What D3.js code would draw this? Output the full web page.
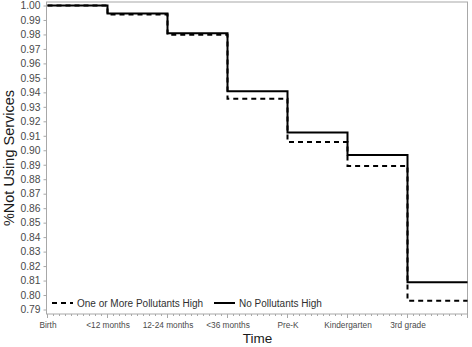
<!DOCTYPE html>
<html>
<head>
<meta charset="utf-8">
<script src="https://cdn.jsdelivr.net/npm/d3@7"></script>
<style>
  body { margin: 0; background: #fff; }
  text { font-family: "Liberation Sans", Arial, sans-serif; }
</style>
</head>
<body>
<div class="chart"></div>
<script>
// time points (x axis categories)
let timeLabels = ['Birth', '<12 months', '12-24 months', '<36 months', 'Pre-K', 'Kindergarten', '3rd grade'];
// step values for each interval starting at the time point
let noPollutants = [1.000, 0.9945, 0.9808, 0.9407, 0.9123, 0.8967, 0.8089];
let onePlusPollutants = [1.000, 0.9938, 0.9798, 0.9356, 0.9057, 0.8892, 0.7960];
let yTicks = d3.range(79, 101).map(d => d / 100);

let width = 472, height = 347;
let svg = d3.select('.chart')
    .append('svg')
    .attr('width', width)
    .attr('height', height);

let x_scale = d3.scaleLinear()
    .domain([0, timeLabels.length])
    .range([47.5, 467.5]);
let y_scale = d3.scaleLinear()
    .domain([0.79, 1.00])
    .range([309.5, 5.5]);

let frameTop = 2, frameBottom = 314;

// frame
svg.append('rect')
    .attr('x', x_scale(0) - 1)
    .attr('y', frameTop)
    .attr('width', x_scale(timeLabels.length) - x_scale(0) + 1)
    .attr('height', frameBottom - frameTop)
    .attr('fill', 'none')
    .attr('stroke', '#a8a8a8')
    .attr('stroke-width', 1);

// y axis
let y_Axis = d3.axisLeft()
    .scale(y_scale)
    .tickValues(yTicks)
    .tickSize(3)
    .tickFormat(d3.format('.2f'));
let gy = svg.append('g')
    .attr('transform', `translate(${x_scale(0) - 1}, 0)`)
    .call(y_Axis);
gy.select('.domain').remove();
gy.selectAll('line').attr('stroke', '#a8a8a8');
gy.selectAll('text')
    .attr('fill', '#4a4a4a')
    .style('font-size', '10.3px')
    .attr('x', -6);

// x axis minor ticks
let minor = d3.range(0, timeLabels.length * 10 + 1).map(d => d / 10);
svg.append('g')
    .selectAll('line')
    .data(minor)
    .join('line')
    .attr('x1', d => x_scale(d))
    .attr('x2', d => x_scale(d))
    .attr('y1', frameBottom)
    .attr('y2', d => frameBottom + (Math.abs(d - Math.round(d)) < 1e-6 ? 4 : 2))
    .attr('stroke', '#a8a8a8');

let x_Axis = d3.axisBottom()
    .scale(x_scale)
    .tickValues(d3.range(timeLabels.length))
    .tickSize(0)
    .tickFormat(i => timeLabels[i]);
let gx = svg.append('g')
    .attr('transform', `translate(0, ${frameBottom})`)
    .call(x_Axis);
gx.select('.domain').remove();
gx.selectAll('text')
    .attr('fill', '#4a4a4a')
    .attr('y', 8)
    .style('font-size', '8.3px');

// step lines
function stepData(vals) {
    let pts = vals.map((v, i) => [i, v]);
    pts.push([vals.length, vals[vals.length - 1]]);
    return pts;
}
let line = d3.line()
    .x(d => x_scale(d[0]))
    .y(d => y_scale(d[1]))
    .curve(d3.curveStepAfter);

svg.append('path')
    .datum(stepData(onePlusPollutants))
    .attr('d', line)
    .attr('fill', 'none')
    .attr('stroke', '#000')
    .attr('stroke-width', 2)
    .attr('stroke-dasharray', '5,4');
svg.append('path')
    .datum(stepData(noPollutants))
    .attr('d', line)
    .attr('fill', 'none')
    .attr('stroke', '#000')
    .attr('stroke-width', 2);

// legend
let legend = [
    { label: 'One or More Pollutants High', dash: '5,4', x: 52 },
    { label: 'No Pollutants High', dash: null, x: 214 }
];
let lg = svg.append('g').selectAll('g')
    .data(legend)
    .join('g')
    .attr('transform', d => `translate(${d.x}, 303)`);
lg.append('line')
    .attr('x1', 0).attr('x2', 21)
    .attr('stroke', '#000')
    .attr('stroke-width', 2)
    .attr('stroke-dasharray', d => d.dash);
lg.append('text')
    .attr('x', 25)
    .attr('dy', '0.35em')
    .attr('fill', '#303030')
    .style('font-size', '10px')
    .text(d => d.label);

// titles
svg.append('text')
    .attr('x', (x_scale(0) + x_scale(timeLabels.length)) / 2)
    .attr('y', 343)
    .attr('text-anchor', 'middle')
    .attr('fill', '#1a1a1a')
    .style('font-size', '13.5px')
    .text('Time');
svg.append('text')
    .attr('transform', `translate(14, ${(frameTop + frameBottom) / 2}) rotate(-90)`)
    .attr('text-anchor', 'middle')
    .attr('fill', '#1a1a1a')
    .style('font-size', '14.5px')
    .text('%Not Using Services');
</script>
</body>
</html>
